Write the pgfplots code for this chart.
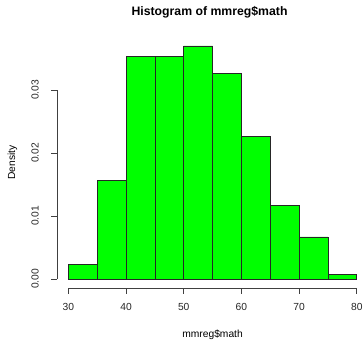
\documentclass[border=0pt]{standalone}
\usepackage{pgfplots}
\pgfplotsset{compat=1.18}
\usepackage{fontspec}
\setmainfont{Liberation Sans}
\definecolor{rgreen}{RGB}{0,255,0}
\begin{document}
\begin{tikzpicture}
\begin{axis}[
  at={(56.8bp,51.7bp)}, anchor=south west,
  scale only axis, width=311.5bp, height=251.9bp,
  xmin=28, xmax=82, ymin=-0.00148, ymax=0.0385,
  axis x line*=bottom, axis y line*=left,
  axis line style={draw=none},
  scaled y ticks=false,
  xtick={30,40,50,60,70,80}, xticklabels={30,40,50,60,70,80},
  ytick={0,0.01,0.02,0.03}, yticklabels={0.00,0.01,0.02,0.03},
  tick align=outside, major tick length=5.5bp,
  tick style={black!75, line width=0.6bp},
  every tick label/.append style={font=\fontsize{10.3}{12}\selectfont, text=black!85},
  xticklabel style={inner sep=0pt, anchor=north, yshift=-9bp},
  yticklabel style={inner sep=0pt, xshift=-12.5bp, rotate=90, anchor=south},
  title={Histogram of mmreg\$math},
  title style={font=\bfseries\fontsize{12.3}{14}\selectfont, at={(axis description cs:0.5,1)}, anchor=center, yshift=17.9bp, xshift=-3bp},
  xlabel={mmreg\$math},
  xlabel style={font=\fontsize{10.3}{12}\selectfont, at={(axis description cs:0.5,0)}, anchor=center, yshift=-46.5bp},
  ylabel={Density},
  ylabel style={font=\fontsize{10.3}{12}\selectfont, at={(axis description cs:0,0.5)}, anchor=center, yshift=44.3bp},
  clip=false,
]
\addplot[ybar interval, fill=rgreen, draw=black!85, line width=0.6bp] coordinates {
  (30,0.002333) (35,0.015667) (40,0.035333) (45,0.035333) (50,0.037)
  (55,0.032667) (60,0.022667) (65,0.011667) (70,0.006667) (75,0.000667) (80,0)
};
\draw[black!75, line width=0.6bp] (axis cs:30,-0.00148) -- (axis cs:80,-0.00148);
\draw[black!75, line width=0.6bp] (axis cs:28,0) -- (axis cs:28,0.03);
\end{axis}
\pgfresetboundingbox
\path[use as bounding box] (0,0) rectangle (364bp,340bp);
\end{tikzpicture}
\end{document}
